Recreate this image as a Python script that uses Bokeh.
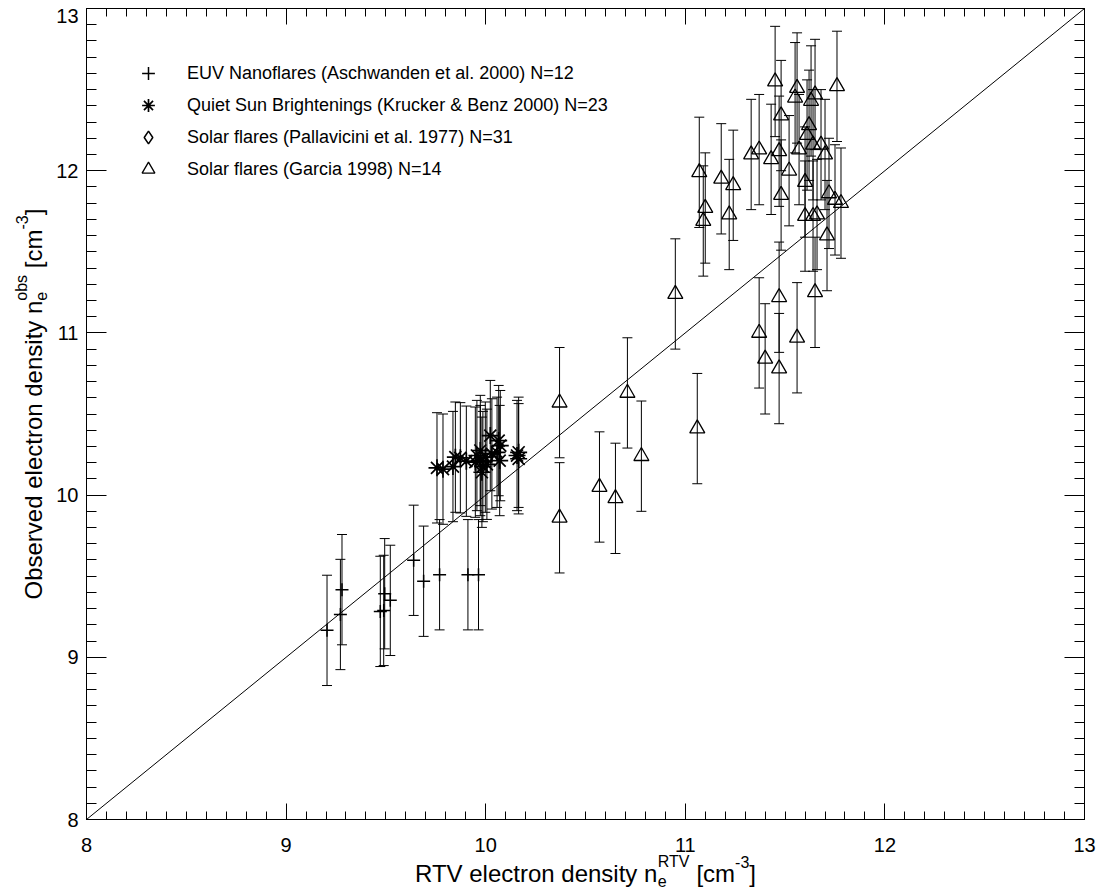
import numpy as np
from bokeh.plotting import figure
from bokeh.models import (Range1d, LinearAxis, SingleIntervalTicker, Label, Legend,
                          LegendItem, ColumnDataSource)
from bokeh.embed import file_html
from bokeh.resources import INLINE

# ---------------- data ----------------
euv_x = [9.205, 9.280, 9.272, 9.472, 9.489, 9.494, 9.522, 9.639, 9.689, 9.769, 9.911, 9.964]
euv_y = [9.166, 9.417, 9.264, 9.283, 9.289, 9.392, 9.351, 9.598, 9.469, 9.509, 9.509, 9.509]
euv_err = 0.34

qs_x = [9.756, 9.786, 9.836, 9.848, 9.873, 9.903, 9.956, 9.973, 9.986, 9.998, 10.023, 10.065,
        10.057, 10.070, 10.165, 10.165, 9.973, 10.006, 9.948, 10.031, 10.073, 9.981, 10.157]
qs_y = [10.168, 10.160, 10.176, 10.234, 10.230, 10.209, 10.244, 10.213, 10.176, 10.234, 10.367, 10.336,
        10.264, 10.213, 10.264, 10.224, 10.275, 10.190, 10.203, 10.254, 10.305, 10.141, 10.244]
qs_err = 0.34

pal_x = []
pal_y = []

gar_x = [10.37, 10.37, 10.57, 10.65, 10.78, 11.06, 10.71, 10.95, 11.37, 11.40, 11.47, 11.47,
         11.56, 11.65, 11.71, 11.09, 11.22,
         11.07, 11.10, 11.18, 11.24, 11.33, 11.37, 11.43, 11.45, 11.47, 11.48, 11.48, 11.52,
         11.55, 11.56, 11.57, 11.60, 11.60, 11.61, 11.62, 11.63, 11.64, 11.64, 11.65, 11.66,
         11.68, 11.70, 11.72, 11.75, 11.76, 11.78]
gar_y = [9.86, 10.57, 10.05, 9.98, 10.24, 10.41, 10.63, 11.24, 11.00, 10.84, 11.22, 10.78,
         10.97, 11.25, 11.60, 11.69, 11.73,
         11.99, 11.77, 11.95, 11.91, 12.10, 12.13, 12.07, 12.55, 12.12, 11.85, 12.34, 12.00,
         12.45, 12.51, 12.13, 11.72, 11.93, 12.22, 12.28, 12.43, 11.72, 12.16, 12.47, 11.73,
         12.16, 12.10, 11.86, 11.82, 12.52, 11.80]
gar_err = 0.34

labels = ["EUV Nanoflares (Aschwanden et al. 2000) N=12",
          "Quiet Sun Brightenings (Krucker & Benz 2000) N=23",
          "Solar flares (Pallavicini et al. 1977) N=31",
          "Solar flares (Garcia 1998) N=14"]

x_ticks = [8, 9, 10, 11, 12, 13]
x_min, x_max = 8, 13
y_min, y_max = 8, 13

# ---------------- layout ----------------
# The frame fills the whole canvas; the box axes sit at fixed data locations so that the
# axis titles (rich text) can be drawn as labels without being clipped.
W, H = 1104, 890
BL, BR, BT, BB = 86, 20, 8, 71
FW, FH = W - BL - BR, H - BT - BB
ux = (x_max - x_min) / FW
uy = (y_max - y_min) / FH
FONT = "Liberation Sans"

p = figure(width=W, height=H,
           x_range=Range1d(x_min - BL * ux, x_max + BR * ux),
           y_range=Range1d(y_min - BB * uy, y_max + BT * uy),
           x_axis_location=None, y_axis_location=None,
           output_backend="svg", toolbar_location=None,
           min_border_left=0, min_border_right=0, min_border_top=0, min_border_bottom=0)
p.grid.visible = False
p.outline_line_color = None
p.background_fill_color = "white"
p.border_fill_color = "white"


def make_axis(side, loc, bounds, tin, tmin, show_labels, standoff, overrides=None):
    ax = LinearAxis(fixed_location=loc, bounds=bounds,
                    ticker=SingleIntervalTicker(interval=1, num_minor_ticks=10))
    ax.axis_line_color = "black"
    ax.axis_line_width = 1
    ax.major_tick_line_color = "black"
    ax.minor_tick_line_color = "black"
    ax.major_tick_in = tin
    ax.major_tick_out = 0
    ax.minor_tick_in = tmin
    ax.minor_tick_out = 0
    ax.major_label_text_font = FONT
    ax.major_label_text_font_size = "20px"
    ax.major_label_text_color = "black"
    ax.major_label_standoff = standoff
    if overrides:
        ax.major_label_overrides = overrides
    if not show_labels:
        ax.major_label_overrides = {t: "" for t in x_ticks}
        ax.major_label_standoff = 0
    p.add_layout(ax, side)
    return ax


make_axis("below", y_min, (x_min, x_max), 16, 8, True, 18)
make_axis("left", x_min, (y_min, y_max), 20, 10, True, 8, overrides={13: ""})
make_axis("above", y_max, (x_min, x_max), 16, 8, False, 0)
make_axis("right", x_max, (y_min, y_max), 20, 10, False, 0)

# diagonal y = x across the box
diag = [x_min, x_max]
p.line(x=diag, y=diag, line_color="black", line_width=1)


def series(xs, ys, err, marker, size, lw):
    src = ColumnDataSource(dict(x=xs, y=ys,
                                lo=[v - err for v in ys], hi=[v + err for v in ys]))
    p.segment(x0="x", y0="lo", x1="x", y1="hi", source=src, line_color="black", line_width=1)
    p.scatter(x="x", y="lo", source=src, marker="dash", size=10, line_color="black", line_width=1)
    p.scatter(x="x", y="hi", source=src, marker="dash", size=10, line_color="black", line_width=1)
    r = p.scatter(x="x", y="y", source=src, marker=marker, size=size, line_color="black",
                  fill_color=None, line_width=lw)
    return r


r_euv = series(euv_x, euv_y, euv_err, "cross", 13, 1.5)
r_qs = series(qs_x, qs_y, qs_err, "asterisk", 17, 1.7)
# Pallavicini series has no points drawn; NaN placeholder keeps the legend glyph
r_pal = p.scatter(x=pal_x + [float("nan")], y=pal_y + [float("nan")], marker="diamond", size=14,
                  line_color="black", fill_color=None, line_width=1.5)
r_gar = series(gar_x, gar_y, gar_err, "triangle", 15, 1.3)

ROW = 32
legend = Legend(items=[LegendItem(label=labels[0], renderers=[r_euv]),
                       LegendItem(label=labels[1], renderers=[r_qs]),
                       LegendItem(label=labels[2], renderers=[r_pal]),
                       LegendItem(label=labels[3], renderers=[r_gar])],
                location=(131, H - 57 - 4 * ROW), margin=0, padding=0,
                glyph_width=34, glyph_height=ROW, label_height=ROW, spacing=0, label_standoff=22,
                border_line_alpha=0, background_fill_alpha=0,
                label_text_font=FONT, label_text_font_size="18px", label_text_color="black",
                label_text_baseline="alphabetic")
p.add_layout(legend)

# ---------------- axis titles (rich text, canvas pixel units; y from top) ----------------
AW = {' ': 278, 'R': 722, 'T': 611, 'V': 667, 'e': 556, 'l': 222, 'c': 500, 't': 278, 'r': 333,
      'o': 556, 'n': 556, 'd': 556, 's': 500, 'i': 222, 'y': 500, '[': 278, ']': 278, 'm': 833,
      '-': 333, '3': 556, 'O': 778, 'b': 556, 'v': 500}


def tw(s, size):
    return sum(AW[c] for c in s) * size / 1000.0


BIG, SMALL = 24, 16
SUB, SUP = -7, 12


def pieces(base_word, sup_word):
    # (text, font size, baseline shift px, advances the pen)
    return [(base_word, BIG, 0, True),
            ("e", SMALL, SUB, False),
            (sup_word, SMALL, SUP, True),
            (" ", BIG, 0, True),
            ("[cm", BIG, 0, True),
            ("-3", SMALL, SUP, True),
            ("]", BIG, 0, True)]


def total_width(pc):
    return sum(tw(t, s) for t, s, sh, adv in pc if adv)


# x title
xp = pieces("RTV electron density n", "RTV")
pos = (BL + FW / 2.0) - total_width(xp) / 2.0
base_y = 873
for t, s, sh, adv in xp:
    if t.strip():
        p.add_layout(Label(x=pos, y=base_y - sh, x_units="canvas", y_units="canvas",
                           text=t, text_font=FONT, text_font_size=f"{s}px", text_align="left",
                           text_baseline="alphabetic", text_color="black"))
    if adv:
        pos += tw(t, s)

# y title (rotated, reads bottom to top)
yp = pieces("Observed electron density n", "obs")
pos = 599
base_x = 33
for t, s, sh, adv in yp:
    if t.strip():
        p.add_layout(Label(x=base_x - sh, y=pos, x_units="canvas", y_units="canvas",
                           text=t, text_font=FONT, text_font_size=f"{s}px", text_align="left",
                           text_baseline="alphabetic", angle=np.pi / 2, text_color="black"))
    if adv:
        pos -= tw(t, s)

# top y tick label "13", pushed down inside the canvas as in the reference
p.add_layout(Label(x=BL - 8, y=15, x_units="canvas", y_units="canvas", text="13",
                   text_font=FONT, text_font_size="20px", text_align="right",
                   text_baseline="middle", text_color="black"))

open("out.html", "w").write(file_html(p, INLINE))
